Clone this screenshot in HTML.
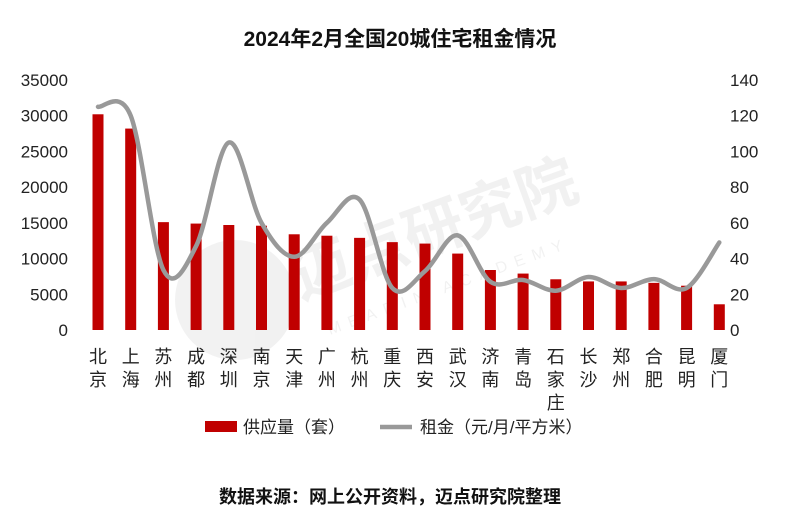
<!DOCTYPE html>
<html><head><meta charset="utf-8"><style>
body{margin:0;background:#fff;}
svg{display:block;font-family:"Liberation Sans","Noto Sans CJK SC",sans-serif;}
</style></head><body>
<svg width="800" height="522" viewBox="0 0 800 522" xmlns="http://www.w3.org/2000/svg">
<rect width="800" height="522" fill="#fff"/>
<text x="400" y="46" text-anchor="middle" font-size="21" font-weight="bold" fill="#111">2024年2月全国20城住宅租金情况</text>
<g opacity="0.05">
<circle cx="235" cy="300" r="60" fill="#000"/>
<text x="300" y="300" font-size="60" font-weight="bold" fill="#000" transform="rotate(-20 300 300)">迈点研究院</text>
<text x="330" y="335" font-size="16" fill="#000" letter-spacing="8" transform="rotate(-20 330 335)">MEADIN ACADEMY</text>
</g>
<g font-size="17" fill="#222" text-anchor="end" id="ly"></g>
<g font-size="17" fill="#222" text-anchor="start" id="ry"></g>
<g id="bars" fill="#C00000"></g>
<path id="line" fill="none" stroke="#999" stroke-width="4.5" stroke-linecap="round"/>
<g id="cats" font-size="18" fill="#222" text-anchor="middle"></g>
<rect x="205" y="421" width="32" height="11" fill="#C00000"/>
<text x="243" y="433" font-size="17" fill="#222">供应量（套）</text>
<line x1="380" y1="427" x2="412" y2="427" stroke="#999" stroke-width="4.5"/>
<text x="420" y="433" font-size="17" fill="#222">租金（元/月/平方米）</text>
<text x="390" y="503" text-anchor="middle" font-size="18" font-weight="bold" fill="#111">数据来源：网上公开资料，迈点研究院整理</text>
</svg>
<script>
const ns="http://www.w3.org/2000/svg";
function el(p,t,a,txt){const e=document.createElementNS(ns,t);for(const k in a)e.setAttribute(k,a[k]);if(txt!==undefined)e.textContent=txt;document.getElementById(p).appendChild(e);}
const y0=330,h=250;
for(let i=0;i<=7;i++){const y=y0-i*h/7;el('ly','text',{x:68,y:y+6},String(i*5000));el('ry','text',{x:730,y:y+6},String(i*20));}
const cats=["北京","上海","苏州","成都","深圳","南京","天津","广州","杭州","重庆","西安","武汉","济南","青岛","石家庄","长沙","郑州","合肥","昆明","厦门"];
const sup=[30200,28200,15100,14900,14700,14600,13400,13200,12900,12300,12100,10700,8400,7900,7100,6800,6800,6600,6200,3600];
const rent=[125,120,33.6,47,105,60,41,60,73,23.5,33,53,27,28,22,29.7,23.5,28.5,23.5,49];
const pts=[];
cats.forEach((c,i)=>{const cx=98+i*32.7;const bh=sup[i]/35000*h;
el('bars','rect',{x:cx-5.5,y:y0-bh,width:11,height:bh});
[...c].forEach((ch,j)=>el('cats','text',{x:cx,y:363+j*23},ch));
pts.push([cx,y0-rent[i]/140*h]);});
let d=`M${pts[0][0]},${pts[0][1]}`;
for(let i=0;i<pts.length-1;i++){const p0=pts[Math.max(0,i-1)],p1=pts[i],p2=pts[i+1],p3=pts[Math.min(pts.length-1,i+2)];
d+=` C${p1[0]+(p2[0]-p0[0])/6},${p1[1]+(p2[1]-p0[1])/6} ${p2[0]-(p3[0]-p1[0])/6},${p2[1]-(p3[1]-p1[1])/6} ${p2[0]},${p2[1]}`;}
document.getElementById('line').setAttribute('d',d);
</script>
</body></html>
